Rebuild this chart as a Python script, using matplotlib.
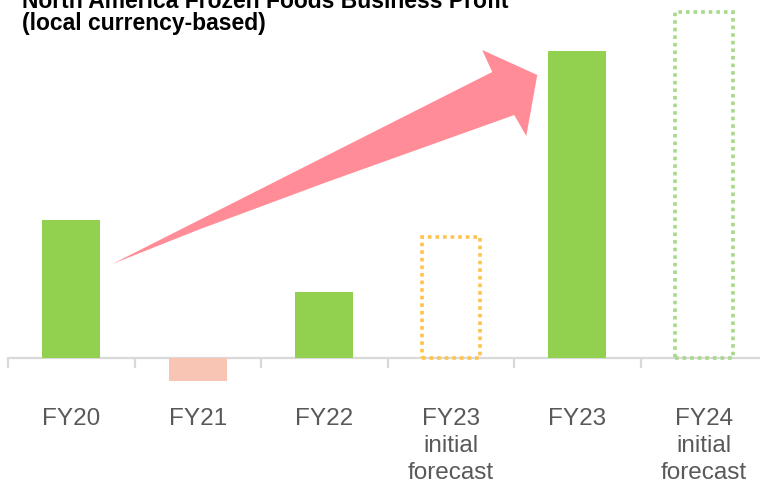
import numpy as np
import matplotlib.pyplot as plt
from matplotlib.patches import Polygon

plt.rcParams['font.family'] = ['Liberation Sans', 'DejaVu Sans']

categories = ["FY20", "FY21", "FY22", "FY23\ninitial\nforecast", "FY23", "FY24\ninitial\nforecast"]
profit = [138, -23, 66, 121, 307, 346]
is_forecast = [False, False, False, True, False, True]
bar_colors = ["#92D050", "#F8C5B4", "#92D050", "#FFC34D", "#92D050", "#A8D88A"]

W, H = 760, 486
fig = plt.figure(figsize=(W / 100, H / 100), dpi=100)
# axes spans a bit past the right edge, like the cropped original
ax = fig.add_axes([8 / W, 86 / H, 759 / W, 400 / H])
ax.set_xlim(-0.5, len(categories) - 0.5)
ax.set_ylim(-42, 358)

x = np.arange(len(categories))
for i, (v, fc, dotted) in enumerate(zip(profit, bar_colors, is_forecast)):
    if dotted:
        ax.bar(x[i], v, width=0.46, facecolor="none", edgecolor=fc,
               linewidth=2.6, linestyle=(0, (1, 1.1)), zorder=3)
    else:
        ax.bar(x[i], v, width=0.46, color=fc, zorder=3)

# growth arrow from FY20 to FY23, tapered with a head
arrow = [(0.324, 94), (3.328, 286), (3.249, 308), (3.684, 283),
         (3.597, 222), (3.502, 243), (2.0, 175), (1.0, 128)]
ax.add_patch(Polygon(arrow, closed=True, facecolor="#FF8C96", edgecolor="none", zorder=4))

for s in ["top", "right", "left"]:
    ax.spines[s].set_visible(False)
ax.spines["bottom"].set_position(("data", 0))
ax.spines["bottom"].set_color("#D9D9D9")
ax.spines["bottom"].set_linewidth(1.6)

ax.set_yticks([])
ax.set_xticks(x)
ax.set_xticklabels(categories, fontsize=17.5, color="#595959", linespacing=1.29)
ax.tick_params(axis="x", which="major", length=0, pad=36)
ax.set_xticks(np.arange(-0.5, len(categories)), minor=True)
ax.tick_params(axis="x", which="minor", length=7, width=1.6, color="#D9D9D9")

fig.text(22 / W, 1 - 8 / H, "North America Frozen Foods Business Profit",
         fontsize=16.5, fontweight="bold", va="baseline", ha="left")
fig.text(22 / W, 1 - 30 / H, "(local currency-based)",
         fontsize=16.5, fontweight="bold", va="baseline", ha="left")

fig.savefig("out.png", dpi=100)
